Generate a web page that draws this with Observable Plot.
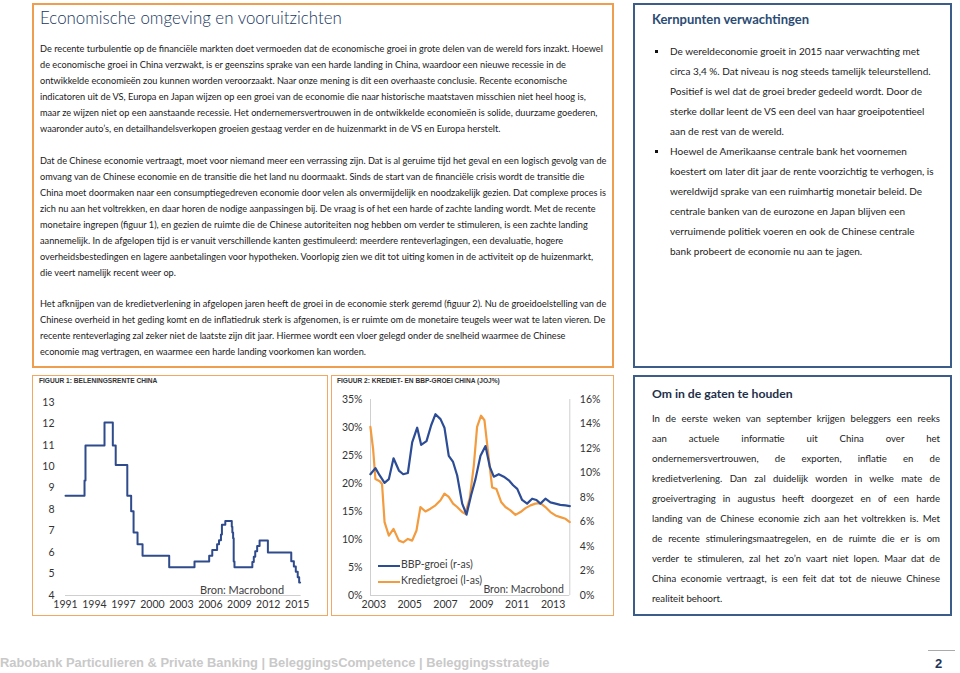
<!DOCTYPE html>
<html><head><meta charset="utf-8">
<script src="https://cdn.jsdelivr.net/npm/d3@7"></script>
<script src="https://cdn.jsdelivr.net/npm/@observablehq/plot@0.6"></script>
<style>
html,body{margin:0;padding:0;background:#fff;}
body{width:960px;height:673px;position:relative;overflow:hidden;font-family:Lato,"Open Sans",sans-serif;color:#1a1a1a;}
.box{position:absolute;box-sizing:border-box;}
.orange{border:2px solid #EF9D4E;}
.orange1{border:1.5px solid #F2A862;}
.blue{border:2px solid #3C5C8A;}
.abs{position:absolute;white-space:nowrap;}
.p{position:absolute;left:40px;font-size:9.2px;line-height:16px;white-space:nowrap;color:#1a1a1a;}
.kp{position:absolute;left:670px;font-size:10px;line-height:20px;white-space:nowrap;color:#222;}
.sq{position:absolute;left:655px;width:3px;height:3px;background:#111;}
.jl{width:288px;font-size:9.6px;line-height:20px;height:20px;text-align:justify;text-align-last:justify;color:#222;white-space:normal;}
.jl.last{text-align-last:left;}
.figt{position:absolute;font-family:"Liberation Sans",Arial,sans-serif;font-weight:bold;font-size:6.6px;color:#333;white-space:nowrap;}
.leg{position:absolute;font-size:10.5px;color:#404040;white-space:nowrap;}
.legline{position:absolute;height:0;border-top:2.5px solid;}
</style></head>
<body>
<div class="box orange" style="left:32px;top:3px;width:582px;height:365px;"></div>
<div class="box blue" style="left:633px;top:3px;width:319px;height:365px;"></div>
<div class="box orange1" style="left:32px;top:375px;width:296px;height:241px;"></div>
<div class="box orange1" style="left:331px;top:375px;width:283px;height:241px;"></div>
<div class="box blue" style="left:633px;top:375px;width:319px;height:241px;"></div>

<div class="abs" style="left:40px;top:7px;font-size:16.9px;font-weight:300;color:#17375E;">Economische omgeving en vooruitzichten</div>

<div class="p" style="top:41px;">De recente turbulentie op de financiële markten doet vermoeden dat de economische groei in grote delen van de wereld fors inzakt. Hoewel<br>de economische groei in China verzwakt, is er geenszins sprake van een harde landing in China, waardoor een nieuwe recessie in de<br>ontwikkelde economieën zou kunnen worden veroorzaakt. Naar onze mening is dit een overhaaste conclusie. Recente economische<br>indicatoren uit de VS, Europa en Japan wijzen op een groei van de economie die naar historische maatstaven misschien niet heel hoog is,<br>maar ze wijzen niet op een aanstaande recessie. Het ondernemersvertrouwen in de ontwikkelde economieën is solide, duurzame goederen,<br>waaronder auto’s, en detailhandelsverkopen groeien gestaag verder en de huizenmarkt in de VS en Europa herstelt.</div>

<div class="p" style="top:153px;">Dat de Chinese economie vertraagt, moet voor niemand meer een verrassing zijn. Dat is al geruime tijd het geval en een logisch gevolg van de<br>omvang van de Chinese economie en de transitie die het land nu doormaakt. Sinds de start van de financiële crisis wordt de transitie die<br>China moet doormaken naar een consumptiegedreven economie door velen als onvermijdelijk en noodzakelijk gezien. Dat complexe proces is<br>zich nu aan het voltrekken, en daar horen de nodige aanpassingen bij. De vraag is of het een harde of zachte landing wordt. Met de recente<br>monetaire ingrepen (figuur 1), en gezien de ruimte die de Chinese autoriteiten nog hebben om verder te stimuleren, is een zachte landing<br>aannemelijk. In de afgelopen tijd is er vanuit verschillende kanten gestimuleerd: meerdere renteverlagingen, een devaluatie, hogere<br>overheidsbestedingen en lagere aanbetalingen voor hypotheken. Voorlopig zien we dit tot uiting komen in de activiteit op de huizenmarkt,<br>die veert namelijk recent weer op.</div>

<div class="p" style="top:296px;">Het afknijpen van de kredietverlening in afgelopen jaren heeft de groei in de economie sterk geremd (figuur 2). Nu de groeidoelstelling van de<br>Chinese overheid in het geding komt en de inflatiedruk sterk is afgenomen, is er ruimte om de monetaire teugels weer wat te laten vieren. De<br>recente renteverlaging zal zeker niet de laatste zijn dit jaar. Hiermee wordt een vloer gelegd onder de snelheid waarmee de Chinese<br>economie mag vertragen, en waarmee een harde landing voorkomen kan worden.</div>

<div class="abs" style="left:652px;top:11px;font-size:13px;font-weight:bold;color:#2B4C74;">Kernpunten verwachtingen</div>
<div class="sq" style="top:50px;"></div>
<div class="kp" style="top:41px;">De wereldeconomie groeit in 2015 naar verwachting met<br>circa 3,4 %. Dat niveau is nog steeds tamelijk teleurstellend.<br>Positief is wel dat de groei breder gedeeld wordt. Door de<br>sterke dollar leent de VS een deel van haar groeipotentieel<br>aan de rest van de wereld.</div>
<div class="sq" style="top:150px;"></div>
<div class="kp" style="top:141px;">Hoewel de Amerikaanse centrale bank het voornemen<br>koestert om later dit jaar de rente voorzichtig te verhogen, is<br>wereldwijd sprake van een ruimhartig monetair beleid. De<br>centrale banken van de eurozone en Japan blijven een<br>verruimende politiek voeren en ook de Chinese centrale<br>bank probeert de economie nu aan te jagen.</div>

<div class="abs" style="left:652px;top:386px;font-size:12.2px;font-weight:bold;color:#1E2F4A;">Om in de gaten te houden</div>
<div class="abs" style="left:652px;top:409px;">
<div class="jl">In de eerste weken van september krijgen beleggers een reeks</div>
<div class="jl">aan actuele informatie uit China over het</div>
<div class="jl">ondernemersvertrouwen, de exporten, inflatie en de</div>
<div class="jl">kredietverlening. Dan zal duidelijk worden in welke mate de</div>
<div class="jl">groeivertraging in augustus heeft doorgezet en of een harde</div>
<div class="jl">landing van de Chinese economie zich aan het voltrekken is. Met</div>
<div class="jl">de recente stimuleringsmaatregelen, en de ruimte die er is om</div>
<div class="jl">verder te stimuleren, zal het zo’n vaart niet lopen. Maar dat de</div>
<div class="jl">China economie vertraagt, is een feit dat tot de nieuwe Chinese</div>
<div class="jl last">realiteit behoort.</div>
</div>

<div class="figt" style="left:39px;top:377px;">FIGUUR 1: BELENINGSRENTE CHINA</div>
<div class="figt" style="left:337px;top:377px;">FIGUUR 2: KREDIET- EN BBP-GROEI CHINA (JOJ%)</div>

<div id="c1" style="position:absolute;left:32px;top:392px;"></div>
<div id="c2" style="position:absolute;left:333px;top:392px;"></div>

<div class="legline" style="left:378px;top:564.5px;width:22px;border-color:#2C4C96;"></div>
<div class="leg" style="left:401px;top:558px;">BBP-groei (r-as)</div>
<div class="legline" style="left:378px;top:580.5px;width:22px;border-color:#F39B3F;"></div>
<div class="leg" style="left:401px;top:574px;">Kredietgroei (l-as)</div>

<div class="abs" style="left:0px;top:655px;font-family:'Liberation Sans',Arial,sans-serif;font-weight:bold;font-size:12.9px;color:#C9C9C9;">Rabobank Particulieren &amp; Private Banking | BeleggingsCompetence | Beleggingsstrategie</div>
<div style="position:absolute;left:928px;top:650px;width:27px;height:0;border-top:1px solid #aaa;"></div>
<div class="abs" style="left:935px;top:656px;font-family:'Liberation Sans',Arial,sans-serif;font-weight:bold;font-size:13px;color:#1F3455;">2</div>

<script>
// Figure 1: Beleningsrente China (step changes)
const rateYears  = [1991.0, 1992.97, 1993.07, 1995.04, 1995.9, 1996.2, 1997.4, 1997.8, 1998.05, 1998.46, 1998.98, 2001.74, 2004.36, 2005.88, 2006.2, 2006.7, 2006.9, 2007.1, 2007.2, 2007.55, 2008.22, 2008.28, 2008.36, 2008.42, 2008.5, 2010.35, 2010.5, 2010.65, 2010.85, 2011.1, 2011.96, 2014.38, 2014.65, 2014.85, 2015.05, 2015.2, 2015.3];
const rateValues = [8.64, 9.36, 10.98, 12.06, 10.98, 10.08, 8.64, 7.92, 6.93, 6.39, 5.85, 5.31, 5.58, 5.85, 6.12, 6.39, 6.57, 6.84, 7.29, 7.47, 7.20, 6.93, 6.66, 5.58, 5.31, 5.56, 5.81, 6.06, 6.31, 6.56, 6.00, 5.60, 5.35, 5.10, 4.85, 4.60, 4.60];
const rateTicksX = [1991, 1994, 1997, 2000, 2003, 2006, 2009, 2012, 2015];
const rateTicksY = [4, 5, 6, 7, 8, 9, 10, 11, 12, 13];

// Figure 2: Krediet- en BBP-groei China (% j-o-j)
const gdpYears  = [2002.81, 2003.09, 2003.33, 2003.6, 2003.84, 2004.1, 2004.4, 2004.64, 2004.9, 2005.14, 2005.42, 2005.64, 2005.94, 2006.2, 2006.44, 2006.72, 2006.94, 2007.18, 2007.42, 2007.65, 2007.93, 2008.17, 2008.43, 2008.67, 2008.95, 2009.23, 2009.47, 2009.69, 2009.97, 2010.25, 2010.53, 2010.77, 2011.0, 2011.27, 2011.55, 2011.83, 2012.07, 2012.29, 2012.57, 2012.85, 2013.13, 2013.4, 2013.69, 2013.93];
const gdpValues = [9.9, 10.4, 9.8, 9.2, 9.5, 11.2, 10.2, 9.9, 10.0, 12.5, 13.7, 12.3, 12.6, 13.9, 14.8, 14.4, 13.7, 11.4, 10.9, 9.8, 7.5, 6.6, 8.2, 9.5, 11.4, 12.2, 10.5, 9.7, 9.9, 9.7, 9.4, 9.0, 8.7, 7.8, 7.5, 7.9, 7.8, 7.5, 7.9, 7.6, 7.5, 7.4, 7.35, 7.3];
const creditYears  = [2002.81, 2002.96, 2003.09, 2003.33, 2003.46, 2003.6, 2003.84, 2004.1, 2004.4, 2004.64, 2004.9, 2005.14, 2005.38, 2005.6, 2005.88, 2006.16, 2006.44, 2006.72, 2006.94, 2007.18, 2007.42, 2007.65, 2007.93, 2008.1, 2008.35, 2008.58, 2008.76, 2008.98, 2009.17, 2009.36, 2009.6, 2009.84, 2010.1, 2010.34, 2010.62, 2010.9, 2011.18, 2011.46, 2011.74, 2012.01, 2012.29, 2012.57, 2012.85, 2013.13, 2013.4, 2013.69, 2013.93];
const creditValues = [30.1, 26.2, 20.8, 20.4, 19.9, 13.1, 10.7, 11.9, 9.8, 9.5, 10.1, 9.8, 11.6, 15.8, 15.0, 15.5, 16.1, 17.0, 18.2, 17.6, 16.4, 15.8, 14.9, 14.6, 17.4, 23.3, 30.1, 32.1, 31.3, 25.9, 19.3, 19.0, 16.7, 15.8, 15.2, 14.4, 14.9, 15.6, 16.1, 16.4, 16.5, 15.8, 14.9, 14.3, 14.0, 13.7, 13.1];
const growthTicksX = [2003, 2005, 2007, 2009, 2011, 2013];
const creditTicks = [0, 5, 10, 15, 20, 25, 30, 35];
const gdpTicks = [0, 2, 4, 6, 8, 10, 12, 14, 16];

const axisStyle = {fontFamily: "Lato, sans-serif", fontSize: "10.5px", color: "#404040", background: "transparent", overflow: "visible"};

const rate = rateYears.map((x, i) => ({x, y: rateValues[i]}));
const c1 = Plot.plot({
  width: 294, height: 225,
  marginLeft: 33, marginRight: 25.4, marginTop: 9.7, marginBottom: 22,
  x: {domain: [1991, 2015.4], label: null},
  y: {domain: [4, 13], label: null},
  style: axisStyle,
  marks: [
    Plot.ruleY([4], {stroke: "#cfcfcf", strokeWidth: 1}),
    Plot.axisX(rateTicksX, {tickSize: 0, tickPadding: 5, tickFormat: d => String(d), fill: "#333"}),
    Plot.axisY(rateTicksY, {tickSize: 0, tickPadding: 11, fill: "#333"}),
    Plot.line(rate, {x: "x", y: "y", curve: "step-after", stroke: "#2F4B8C", strokeWidth: 2}),
    Plot.text(["Bron: Macrobond"], {frameAnchor: "bottom-right", dx: -17, dy: -2, fontSize: 11, fill: "#404040"})
  ]
});
document.getElementById("c1").append(c1);

const k = 35 / 16;
const gdp = gdpYears.map((x, i) => ({x, v: gdpValues[i]}));
const credit = creditYears.map((x, i) => ({x, v: creditValues[i]}));
const c2 = Plot.plot({
  width: 280, height: 225,
  marginLeft: 37, marginRight: 43.7, marginTop: 7, marginBottom: 22,
  x: {domain: [2002.816, 2013.93], label: null},
  y: {domain: [0, 35], label: null},
  style: axisStyle,
  marks: [
    Plot.ruleY([0], {stroke: "#cfcfcf"}),
    Plot.ruleX([2002.816, 2013.93], {stroke: "#cfcfcf"}),
    Plot.axisX(growthTicksX, {tickSize: 0, tickPadding: 5, tickFormat: d => String(d), fill: "#333"}),
    Plot.axisY(creditTicks, {anchor: "left", tickSize: 0, tickPadding: 8, tickFormat: d => d + "%", fill: "#333"}),
    Plot.axisY(gdpTicks.map(v => v * k), {anchor: "right", tickSize: 0, tickPadding: 10, tickFormat: d => Math.round(d / k) + "%", fill: "#333"}),
    Plot.line(credit, {x: "x", y: "v", stroke: "#F39B3F", strokeWidth: 2.2}),
    Plot.line(gdp, {x: "x", y: d => d.v * k, stroke: "#2C4C96", strokeWidth: 2.2}),
    Plot.text(["Bron: Macrobond"], {frameAnchor: "bottom-right", dx: -6, dy: -3, fontSize: 10.5, fill: "#404040"})
  ]
});
document.getElementById("c2").append(c2);
</script>
</body></html>
